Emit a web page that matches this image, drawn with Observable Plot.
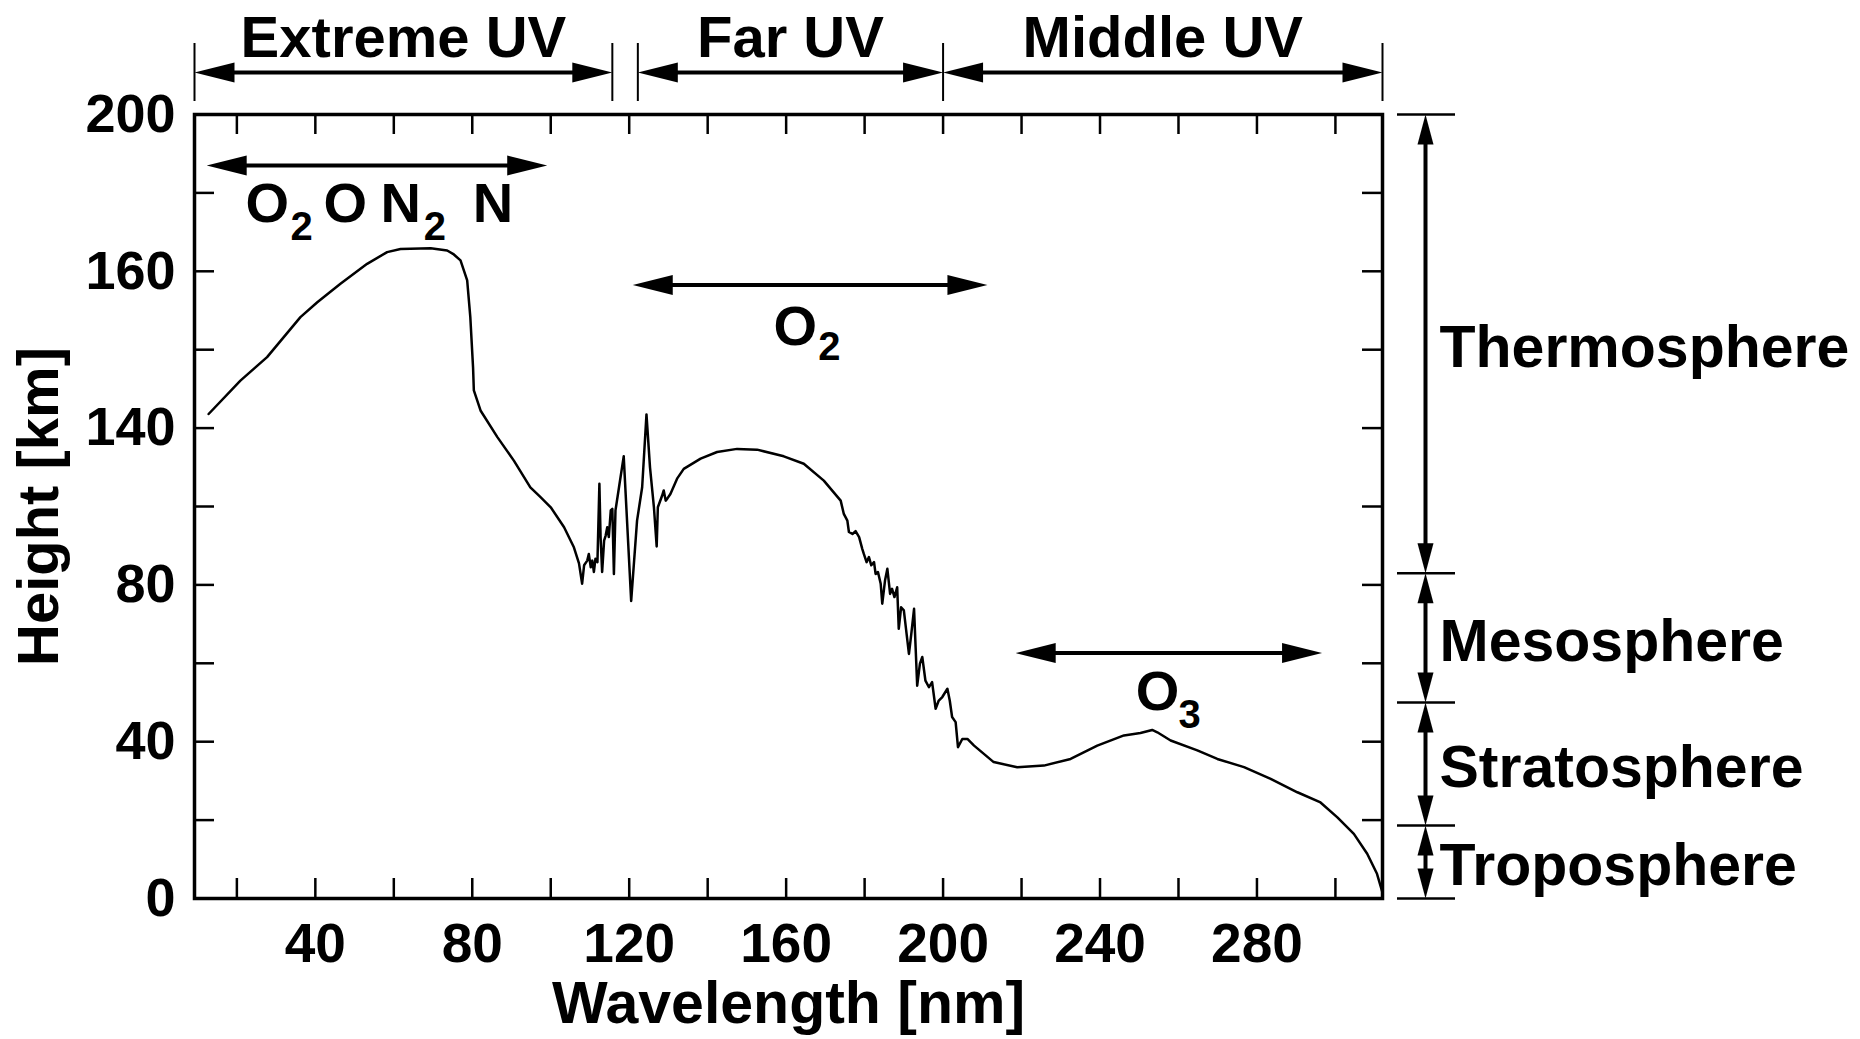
<!DOCTYPE html>
<html>
<head>
<meta charset="utf-8">
<script src="https://cdn.jsdelivr.net/npm/d3@7"></script>
<script src="https://cdn.jsdelivr.net/npm/@observablehq/plot@0.6"></script>
<style>
  html, body { margin: 0; padding: 0; background: #fff; overflow: hidden; }
  #chart svg { display: block; }
</style>
</head>
<body>
<div id="chart"></div>
<script>
// ---------- DATA ----------
const wavelengthNm = [12.8, 20.9, 27.7, 36.2, 40.5, 46.4, 53.2, 58.3, 61.7, 69.4, 73.6, 75.3, 77.0, 78.7, 79.5, 80.2, 80.4, 82.1, 86.4, 90.6, 94.8, 97.4, 100.0, 103.4, 105.9, 107.2, 108.0, 108.5, 109.3, 109.7, 110.2, 110.6, 111.0, 111.4, 111.9, 112.4, 112.7, 113.1, 113.6, 114.0, 114.4, 114.8, 115.3, 115.7, 116.1, 116.5, 117.4, 118.6, 120.5, 122.0, 123.3, 124.4, 125.3, 126.3, 127.0, 127.3, 128.4, 128.8, 129.3, 129.7, 130.5, 132.2, 133.9, 138.2, 142.4, 147.5, 152.6, 159.4, 164.5, 169.6, 173.9, 174.7, 175.6, 176.0, 176.9, 177.7, 178.6, 179.4, 179.8, 180.5, 181.1, 181.7, 182.4, 182.8, 183.4, 184.1, 184.5, 185.2, 185.8, 186.5, 187.0, 187.6, 188.3, 188.7, 189.3, 190.0, 190.7, 191.3, 191.9, 192.6, 193.0, 193.4, 194.1, 194.7, 195.5, 196.4, 197.2, 198.1, 198.9, 199.8, 201.1, 201.7, 202.3, 203.2, 203.8, 204.9, 206.2, 207.9, 210.4, 212.9, 218.9, 225.7, 232.5, 239.3, 246.1, 250.3, 253.3, 254.6, 258.0, 264.8, 269.9, 276.7, 283.5, 290.3, 296.2, 300.5, 304.7, 308.1, 310.6, 312.0];
const heightKm = [123.6, 132.1, 138.1, 148.3, 152.1, 156.8, 161.9, 164.9, 165.7, 165.9, 165.3, 164.3, 162.8, 157.7, 148.3, 135.5, 129.6, 124.5, 117.7, 111.7, 104.9, 102.4, 99.8, 94.7, 89.6, 85.5, 80.3, 85.0, 86.2, 87.9, 84.5, 86.2, 83.3, 86.7, 85.8, 105.8, 92.2, 83.3, 91.3, 92.6, 94.7, 92.2, 99.0, 99.4, 82.8, 99.0, 104.9, 112.8, 75.9, 96.4, 104.9, 123.5, 110.0, 99.8, 89.8, 99.8, 102.8, 104.1, 101.5, 102.0, 103.2, 107.1, 109.6, 112.2, 113.9, 114.7, 114.5, 112.8, 110.9, 106.6, 101.5, 98.1, 96.4, 93.5, 93.0, 93.7, 92.2, 89.2, 87.9, 85.8, 87.1, 85.0, 85.8, 82.8, 83.3, 80.3, 75.2, 81.1, 84.1, 77.7, 79.0, 76.9, 79.4, 68.8, 74.3, 73.5, 67.5, 62.4, 67.5, 73.9, 64.1, 54.3, 59.9, 61.6, 55.6, 53.9, 55.2, 48.4, 50.5, 51.4, 53.5, 50.5, 46.3, 45.0, 38.6, 40.7, 40.7, 39.0, 36.9, 34.8, 33.5, 33.9, 35.6, 39.0, 41.6, 42.2, 43.0, 42.4, 40.3, 37.8, 35.6, 33.5, 30.5, 27.1, 24.5, 20.7, 16.5, 11.4, 6.3, 1.5];

const xTickLabelValues = [40, 80, 120, 160, 200, 240, 280];
const xMinorTicks = [20, 40, 60, 80, 100, 120, 140, 160, 180, 200, 220, 240, 260, 280, 300];
const yTickValues = [0, 40, 80, 120, 160, 200];
const yTickLabels = ["0", "40", "80", "140", "160", "200"];
const yMinorTicks = [20, 40, 60, 80, 100, 120, 140, 160, 180];

const bandNames = ["Extreme UV", "Far UV", "Middle UV"];
const bandStartNm = [9.2, 122.2, 200];
const bandEndNm = [115.7, 200, 312];

const absorberStartNm = [12.3, 120.9, 218.5];
const absorberEndNm = [99.1, 211.3, 296.6];
const absorberHeightKm = [187.0, 156.5, 62.6];

const layerNames = ["Troposphere", "Stratosphere", "Mesosphere", "Thermosphere"];
const layerBottomKm = [0, 18.6, 50, 83];
const layerTopKm = [18.6, 50, 83, 200];

// ---------- LAYOUT ----------
const W = 1860, H = 1039;
const mL = 194, mR = 478, mT = 114, mB = 141;
const pw = W - mL - mR, ph = H - mT - mB;
const X0 = 9.2, X1 = 312, Y0 = 0, Y1 = 200;
const nmPx = (X1 - X0) / pw;   // nm per pixel
const kmPx = (Y1 - Y0) / ph;   // km per pixel
const FONT = "'Liberation Sans', Arial, Helvetica, sans-serif";

const spectrum = wavelengthNm.map((x, i) => ({x, y: heightKm[i]}));
const bands = bandNames.map((name, i) => ({name, x1: bandStartNm[i], x2: bandEndNm[i]}));
const bandEdges = [bandStartNm[0], bandEndNm[0], bandStartNm[1], bandEndNm[1], bandEndNm[2]];
const absorbers = absorberStartNm.map((x1, i) => ({x1, x2: absorberEndNm[i], y: absorberHeightKm[i]}));
const layers = layerNames.map((name, i) => ({name, y1: layerBottomKm[i], y2: layerTopKm[i]}));
const layerEdges = [0, ...layerTopKm];

// annotation rows (in data units)
const bandArrowY = Y1 + 42 * kmPx;
const bandBarY1 = Y1 + 13 * kmPx, bandBarY2 = Y1 + 71 * kmPx;
const bandTextY = Y1 + 58 * kmPx;
const hArrows = [...bands.map(b => ({x1: b.x1, x2: b.x2, y: bandArrowY})), ...absorbers];

const layerArrowX = X1 + 43 * nmPx;
const layerRuleX1 = X1 + 15 * nmPx, layerRuleX2 = X1 + 73 * nmPx;
const layerTextX = X1 + 57 * nmPx;

const yTitleX = X0 - 137 * nmPx;
const yTitleY = (Y0 + Y1) / 2;

// chemical formula pieces
const formulaBase = [
  {t: "O", x: 22.2, y: 172.5}, {t: "O", x: 42.1, y: 172.5}, {t: "N", x: 56.6, y: 172.5}, {t: "N", x: 80.1, y: 172.5},
  {t: "O", x: 156.8, y: 141.1},
  {t: "O", x: 249.1, y: 48.0}
];
const formulaSub = [
  {t: "2", x: 33.7, y: 167.9}, {t: "2", x: 67.6, y: 167.9},
  {t: "2", x: 168.2, y: 137.4},
  {t: "3", x: 260.0, y: 43.6}
];

// arrowhead symbols
const tri = (a, b, c) => ({draw(ctx) { ctx.moveTo(a[0], a[1]); ctx.lineTo(b[0], b[1]); ctx.lineTo(c[0], c[1]); ctx.closePath(); }});
const headRight = tri([0, 0], [-40, -10], [-40, 10]);
const headLeft = tri([0, 0], [40, -10], [40, 10]);
const headUp = tri([0, 0], [-8, 30], [8, 30]);
const headDown = tri([0, 0], [-8, -30], [8, -30]);

const bold = {fontFamily: FONT, fontWeight: "bold", fill: "black"};

const chart = Plot.plot({
  width: W, height: H,
  marginLeft: mL, marginRight: mR, marginTop: mT, marginBottom: mB,
  x: {domain: [X0, X1], axis: null},
  y: {domain: [Y0, Y1], axis: null},
  style: {background: "white", fontFamily: FONT, color: "black"},
  marks: [
    // ticks (inward on all four sides)
    Plot.tickX(xMinorTicks, {x: d => d, insetTop: ph - 20, stroke: "black", strokeWidth: 2.5}),
    Plot.tickX(xMinorTicks, {x: d => d, insetBottom: ph - 20, stroke: "black", strokeWidth: 2.5}),
    Plot.tickY(yMinorTicks, {y: d => d, insetRight: pw - 20, stroke: "black", strokeWidth: 2.5}),
    Plot.tickY(yMinorTicks, {y: d => d, insetLeft: pw - 20, stroke: "black", strokeWidth: 2.5}),
    Plot.frame({stroke: "black", strokeWidth: 3.5}),

    // tick labels
    Plot.text(xTickLabelValues, {x: d => d, frameAnchor: "bottom", text: d => String(d), lineAnchor: "bottom", dy: 63, fontSize: 55, ...bold}),
    Plot.text(yTickValues, {y: d => d, frameAnchor: "left", text: (d, i) => yTickLabels[i], textAnchor: "end", lineAnchor: "middle", dx: -19, fontSize: 54, ...bold}),

    // axis titles
    Plot.text(["Wavelength [nm]"], {frameAnchor: "bottom", text: d => d, lineAnchor: "bottom", dy: 124, fontSize: 59, ...bold}),
    Plot.text(["Height [km]"], {x: () => yTitleX, y: () => yTitleY, text: d => d, rotate: -90, textAnchor: "middle", lineAnchor: "bottom", fontSize: 58, ...bold}),

    // spectrum curve
    Plot.line(spectrum, {x: "x", y: "y", stroke: "black", strokeWidth: 2.5, curve: "linear", strokeLinejoin: "round"}),

    // UV band brackets
    Plot.ruleX(bandEdges, {x: d => d, y1: () => bandBarY1, y2: () => bandBarY2, stroke: "black", strokeWidth: 2}),
    Plot.text(bands, {x: d => (d.x1 + d.x2) / 2, y: () => bandTextY, text: "name", lineAnchor: "bottom", fontSize: 58, ...bold}),

    // horizontal double arrows
    Plot.link(hArrows, {x1: d => d.x1 + 20 * nmPx, x2: d => d.x2 - 20 * nmPx, y1: "y", y2: "y", stroke: "black", strokeWidth: 4}),
    Plot.dot(hArrows, {x: "x1", y: "y", symbol: headLeft, fill: "black"}),
    Plot.dot(hArrows, {x: "x2", y: "y", symbol: headRight, fill: "black"}),

    // absorber formulas
    Plot.text(formulaBase, {x: "x", y: "y", text: "t", textAnchor: "start", lineAnchor: "bottom", fontSize: 56, ...bold}),
    Plot.text(formulaSub, {x: "x", y: "y", text: "t", textAnchor: "start", lineAnchor: "bottom", fontSize: 40, ...bold}),

    // atmospheric layers
    Plot.ruleY(layerEdges, {y: d => d, x1: () => layerRuleX1, x2: () => layerRuleX2, stroke: "black", strokeWidth: 2.5}),
    Plot.link(layers, {x1: () => layerArrowX, x2: () => layerArrowX, y1: d => d.y1 + 15 * kmPx, y2: d => d.y2 - 15 * kmPx, stroke: "black", strokeWidth: 4}),
    Plot.dot(layers, {x: () => layerArrowX, y: "y2", symbol: headUp, fill: "black"}),
    Plot.dot(layers, {x: () => layerArrowX, y: "y1", symbol: headDown, fill: "black"}),
    Plot.text(layers, {x: () => layerTextX, y: d => (d.y1 + d.y2) / 2, text: "name", textAnchor: "start", lineAnchor: "middle", dy: 4, fontSize: 59, ...bold})
  ]
});
document.getElementById("chart").append(chart);
</script>
</body>
</html>
